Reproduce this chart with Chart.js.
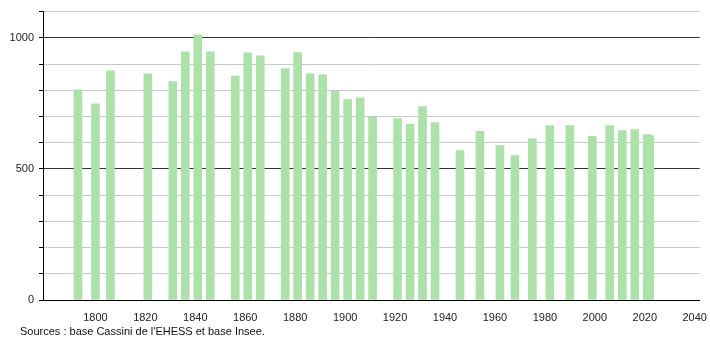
<!DOCTYPE html>
<html>
<head>
<meta charset="utf-8">
<script src="https://cdn.jsdelivr.net/npm/chart.js@4.4.0/dist/chart.umd.min.js"></script>
<style>
  html, body { margin:0; padding:0; background:#fff; }
  #wrap { position:relative; width:710px; height:340px; }
  #source { position:absolute; left:20px; top:325px; font:11px "Liberation Sans", Arial, sans-serif; color:#111; }
</style>
</head>
<body>
<div id="wrap">
  <canvas id="chart" width="710" height="340"></canvas>
  <div id="source">Sources : base Cassini de l'EHESS et base Insee.</div>
</div>
<script>
// ====================== DONNÉES ======================
const years = [1793,1800,1806,1821,1831,1836,1841,1846,1856,1861,1866,1876,1881,1886,1891,1896,1901,1906,1911,
               1921,1926,1931,1936,1946,1954,1962,1968,1975,1982,1990,1999,2006,2011,2016,2021,2022];
const population = [802,748,874,863,833,947,1011,947,854,943,931,883,944,863,859,796,764,771,697,
                    692,670,738,677,570,643,589,551,616,665,665,624,665,646,650,631,627];
const xTicks = [1800,1820,1840,1860,1880,1900,1920,1940,1960,1980,2000,2020,2040];
const yLabels = [0,500,1000];

const points = years.map((y,i)=>({x:y, y:population[i]}));

new Chart(document.getElementById('chart').getContext('2d'),{
  type:'bar',
  data:{ datasets:[{ data:points, backgroundColor:'rgb(172,226,170)', barThickness:8, borderWidth:0 }] },
  options:{
    responsive:false, animation:false,
    layout:{ padding:{ top:10, right:9, left:0, bottom:0 } },
    plugins:{ legend:{display:false}, tooltip:{enabled:false} },
    scales:{
      x:{
        type:'linear', min:1779, max:2042, offset:false,
        afterBuildTicks: s => { s.ticks = xTicks.map(v=>({value:v})); },
        afterFit: s => { s.height = 40; },
        grid:{ display:false },
        border:{ color:'#000', width:1 },
        ticks:{ color:'#222', font:{ family:'Liberation Sans', size:11 }, padding:3, maxRotation:0, autoSkip:false,
                callback: v => String(v) }
      },
      y:{
        min:0, max:1100,
        afterFit: s => { s.width = 43; },
        grid:{
          color: c => (c.tick.value===500 || c.tick.value===1000) ? '#333' : '#c8c8c8',
          tickColor:'#000', tickLength:4
        },
        border:{ color:'#000', width:1 },
        ticks:{ stepSize:100, color:'#222', font:{ family:'Liberation Sans', size:11 }, padding:5,
                callback: v => yLabels.includes(v) ? String(v) : '' }
      }
    }
  }
});
</script>
</body>
</html>
